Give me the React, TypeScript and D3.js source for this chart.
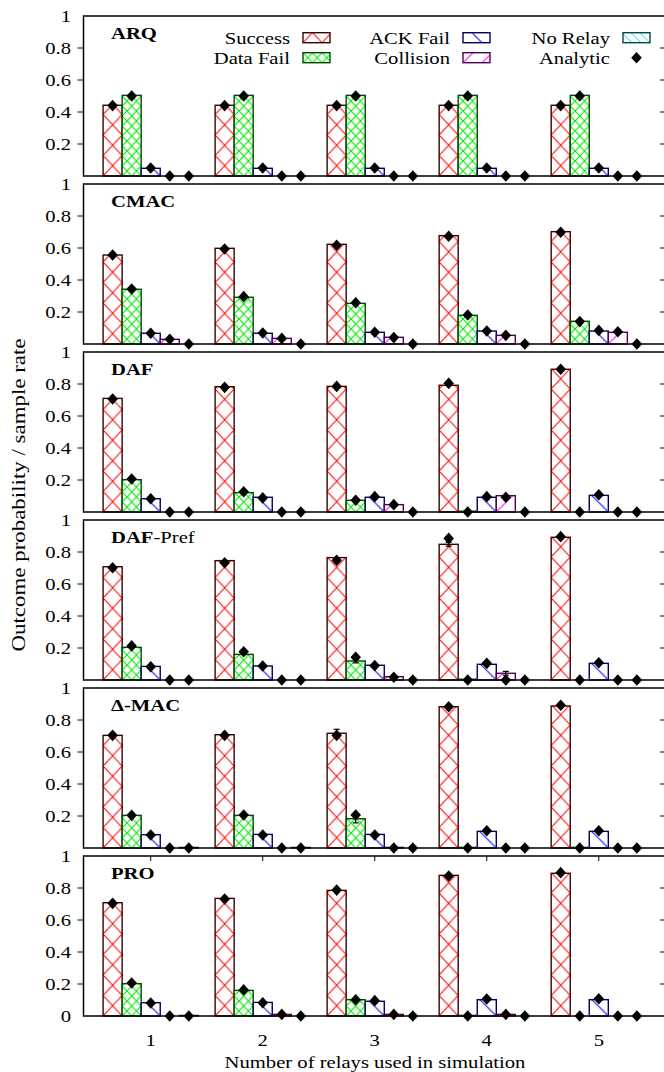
import React from "react";
import * as d3 from "d3";

const groups = [1, 2, 3, 4, 5];
const seriesNames = ["Success", "Data Fail", "ACK Fail", "Collision", "No Relay"];
const panelTitles = ["ARQ", "CMAC", "DAF", "DAF-Pref", "Δ-MAC", "PRO"];
const yTicks = [0, 0.2, 0.4, 0.6, 0.8, 1];

// simulated bars: rows = relays 1..5, cols = series
const arqSim = [
  [0.442, 0.504, 0.048, 0, 0],
  [0.442, 0.504, 0.048, 0, 0],
  [0.442, 0.504, 0.048, 0, 0],
  [0.442, 0.504, 0.048, 0, 0],
  [0.442, 0.504, 0.048, 0, 0],
];
const arqAna = [
  [0.44, 0.50, 0.05, 0, 0],
  [0.44, 0.50, 0.05, 0, 0],
  [0.44, 0.50, 0.05, 0, 0],
  [0.44, 0.50, 0.05, 0, 0],
  [0.44, 0.50, 0.05, 0, 0],
];
const cmacSim = [
  [0.556, 0.342, 0.067, 0.029, 0],
  [0.598, 0.292, 0.067, 0.035, 0],
  [0.623, 0.254, 0.073, 0.042, 0],
  [0.677, 0.179, 0.081, 0.054, 0],
  [0.702, 0.142, 0.081, 0.073, 0],
];
const cmacAna = [
  [0.556, 0.344, 0.067, 0.03, 0],
  [0.594, 0.296, 0.069, 0.035, 0],
  [0.617, 0.258, 0.073, 0.04, 0],
  [0.673, 0.181, 0.081, 0.054, 0],
  [0.698, 0.14, 0.085, 0.077, 0],
];
const dafSim = [
  [0.71, 0.202, 0.083, 0, 0],
  [0.783, 0.121, 0.092, 0, 0],
  [0.785, 0.073, 0.092, 0.046, 0],
  [0.792, 0.005, 0.092, 0.102, 0],
  [0.892, 0, 0.104, 0, 0],
];
const dafAna = [
  [0.706, 0.206, 0.083, 0, 0],
  [0.779, 0.127, 0.088, 0, 0],
  [0.785, 0.073, 0.096, 0.046, 0],
  [0.804, 0, 0.096, 0.092, 0],
  [0.892, 0, 0.108, 0, 0],
];
const dafPrefSim = [
  [0.708, 0.204, 0.085, 0, 0],
  [0.746, 0.16, 0.0875, 0, 0],
  [0.765, 0.119, 0.092, 0.021, 0],
  [0.848, 0.005, 0.098, 0.042, 0],
  [0.892, 0, 0.104, 0, 0],
];
const dafPrefAna = [
  [0.702, 0.213, 0.083, 0, 0],
  [0.733, 0.177, 0.0875, 0, 0],
  [0.748, 0.142, 0.09, 0.017, 0],
  [0.885, 0, 0.104, 0, 0],
  [0.896, 0, 0.108, 0, 0],
];
const deltaMacSim = [
  [0.704, 0.204, 0.083, 0, 0.003],
  [0.708, 0.204, 0.085, 0, 0.003],
  [0.717, 0.183, 0.085, 0.003, 0],
  [0.883, 0.003, 0.104, 0, 0],
  [0.8875, 0.003, 0.104, 0, 0],
];
const deltaMacAna = [
  [0.704, 0.204, 0.081, 0, 0],
  [0.704, 0.206, 0.081, 0, 0],
  [0.704, 0.206, 0.081, 0, 0],
  [0.883, 0, 0.108, 0, 0],
  [0.892, 0, 0.108, 0, 0],
];
const proSim = [
  [0.708, 0.202, 0.083, 0, 0.003],
  [0.735, 0.16, 0.085, 0.01, 0],
  [0.785, 0.102, 0.092, 0.01, 0],
  [0.879, 0.003, 0.102, 0.01, 0],
  [0.892, 0, 0.102, 0, 0],
];
const proAna = [
  [0.704, 0.206, 0.081, 0, 0],
  [0.731, 0.163, 0.083, 0.01, 0],
  [0.787, 0.102, 0.096, 0.01, 0],
  [0.875, 0, 0.106, 0.01, 0],
  [0.896, 0, 0.108, 0, 0],
];
// error bars: [panel, relay index, series index, half-width]
const errorBars = [
  [3, 3, 0, 0.012],
  [3, 3, 3, 0.012],
  [3, 2, 1, 0.012],
  [4, 2, 0, 0.025],
  [4, 2, 1, 0.026],
];

const panelSim = [arqSim, cmacSim, dafSim, dafPrefSim, deltaMacSim, proSim];
const panelAna = [arqAna, cmacAna, dafAna, dafPrefAna, deltaMacAna, proAna];

const W = 664;
const H = 1072;
const LEFT = 83.5;
const RIGHT = 666;
const PANEL_TOP0 = 16;
const PANEL_H = 160;
const PANEL_STEP = 168;
const BAR_W_UNITS = 0.17;
const SX = 1.18;
const FONT = "Liberation Serif, Times New Roman, serif";
const FS = 17.5;

const seriesColor = ["#ff0000", "#00f000", "#0000ff", "#ff00ff", "#00e5e5"];
const seriesBorder = ["#3c0000", "#004a00", "#00005a", "#500050", "#004848"];

function T({ x, y, anchor = "start", size = FS, weight = "normal", children }: any) {
  return (
    <g transform={`translate(${x},${y}) scale(${SX},1)`}>
      <text textAnchor={anchor} fontSize={size} fontWeight={weight} fontFamily={FONT} fill="#000">
        {children}
      </text>
    </g>
  );
}

export default function App() {
  const x = d3.scaleLinear().domain([0.4, 5.6]).range([LEFT, RIGHT]);
  const bw = x(1 + BAR_W_UNITS) - x(1);

  const patterns = (
    <defs>
      <pattern id="p0" patternUnits="userSpaceOnUse" width={bw} height={20.5}>
        <line x1={0} y1={0} x2={bw} y2={20.5} stroke={seriesColor[0]} strokeWidth={1} />
        <line x1={bw} y1={0} x2={0} y2={20.5} stroke={seriesColor[0]} strokeWidth={1} />
      </pattern>
      <pattern id="p1" patternUnits="userSpaceOnUse" width={bw / 2} height={10}>
        <line x1={0} y1={0} x2={bw / 2} y2={10} stroke={seriesColor[1]} strokeWidth={1.1} />
        <line x1={bw / 2} y1={0} x2={0} y2={10} stroke={seriesColor[1]} strokeWidth={1.1} />
      </pattern>
      <pattern id="p2" patternUnits="userSpaceOnUse" width={bw} height={bw}>
        <line x1={-1} y1={-1} x2={bw + 1} y2={bw + 1} stroke={seriesColor[2]} strokeWidth={1} />
      </pattern>
      <pattern id="p3" patternUnits="userSpaceOnUse" width={bw} height={bw}>
        <line x1={-1} y1={bw + 1} x2={bw + 1} y2={-1} stroke={seriesColor[3]} strokeWidth={1} />
      </pattern>
      <pattern id="p4" patternUnits="userSpaceOnUse" width={9} height={9}>
        <line x1={-1} y1={-1} x2={10} y2={10} stroke={seriesColor[4]} strokeWidth={1} />
      </pattern>
    </defs>
  );

  const diamond = (cx: number, cy: number, key: string) => (
    <path key={key} d={`M${cx},${cy - 5.8}L${cx + 5.3},${cy}L${cx},${cy + 5.8}L${cx - 5.3},${cy}Z`} fill="#000" />
  );

  const panels = panelSim.map((sim, p) => {
    const top = PANEL_TOP0 + p * PANEL_STEP;
    const bottom = top + PANEL_H;
    const y = d3.scaleLinear().domain([0, 1]).range([bottom, top]);
    const last = p === panelSim.length - 1;
    const ticks = last ? yTicks : yTicks.filter((t) => t > 0);
    const title = panelTitles[p];
    return (
      <g key={p}>
        {ticks.map((t) => (
          <g key={t}>
            {t > 0 && t < 1 && (
              <>
                <line x1={LEFT - 6} x2={LEFT} y1={y(t)} y2={y(t)} stroke="#000" strokeWidth={1} />
                <line x1={RIGHT - 6} x2={RIGHT} y1={y(t)} y2={y(t)} stroke="#000" strokeWidth={1} />
              </>
            )}
            <T x={71} y={y(t) + 6} anchor="end">
              {d3.format("~g")(t)}
            </T>
          </g>
        ))}
        {last &&
          groups.map((g) => (
            <g key={g}>
              <line x1={x(g)} x2={x(g)} y1={top} y2={top + 5} stroke="#000" strokeWidth={1} />
              <line x1={x(g)} x2={x(g)} y1={bottom} y2={bottom - 5} stroke="#000" strokeWidth={1} />
            </g>
          ))}
        {sim.map((row, gi) =>
          row.map((v, s) => {
            const xc = x(groups[gi] + (s - 2) * BAR_W_UNITS);
            const x0 = xc - bw / 2;
            const h = Math.max(bottom - y(v), v > 0 ? 0.6 : 0);
            if (v <= 0) return null;
            return (
              <g key={`b${gi}-${s}`} transform={`translate(${x0},${bottom})`}>
                <rect x={0} y={-h} width={bw} height={h} fill="#fff" />
                <rect x={0} y={-h} width={bw} height={h} fill={`url(#p${s})`} stroke={seriesBorder[s]} strokeWidth={1.4} />
              </g>
            );
          })
        )}
        {errorBars
          .filter((e) => e[0] === p)
          .map((e, i) => {
            const gi = e[1];
            const s = e[2];
            const v = sim[gi][s];
            const xc = x(groups[gi] + (s - 2) * BAR_W_UNITS);
            return (
              <g key={`e${i}`} stroke="#000" strokeWidth={1.2}>
                <line x1={xc} x2={xc} y1={y(v - e[3])} y2={y(v + e[3])} />
                <line x1={xc - 3} x2={xc + 3} y1={y(v - e[3])} y2={y(v - e[3])} />
                <line x1={xc - 3} x2={xc + 3} y1={y(v + e[3])} y2={y(v + e[3])} />
              </g>
            );
          })}
        <rect x={LEFT} y={top} width={RIGHT - LEFT} height={PANEL_H} fill="none" stroke="#000" strokeWidth={1.5} />
        {panelAna[p].map((row, gi) =>
          row.map((v, s) => diamond(x(groups[gi] + (s - 2) * BAR_W_UNITS), y(v), `d${gi}-${s}`))
        )}
        <g transform={`translate(111,${top + 23}) scale(${SX},1)`}>
          <text fontSize={FS} fontFamily={FONT} fill="#000">
            {title === "DAF-Pref" ? (
              <>
                <tspan fontWeight="bold">DAF</tspan>
                <tspan>-Pref</tspan>
              </>
            ) : (
              <tspan fontWeight="bold">{title}</tspan>
            )}
          </text>
        </g>
      </g>
    );
  });

  const legendItems = [
    { label: seriesNames[0], col: 0, row: 0, s: 0 },
    { label: seriesNames[1], col: 0, row: 1, s: 1 },
    { label: seriesNames[2], col: 1, row: 0, s: 2 },
    { label: seriesNames[3], col: 1, row: 1, s: 3 },
    { label: seriesNames[4], col: 2, row: 0, s: 4 },
    { label: "Analytic", col: 2, row: 1, s: -1 },
  ];
  const legend = legendItems.map((it, i) => {
    const textRight = 290 + it.col * 160;
    const boxL = 303 + it.col * 160;
    const cy = 37.7 + it.row * 20;
    return (
      <g key={i}>
        <T x={textRight} y={cy + 6} anchor="end">
          {it.label}
        </T>
        {it.s >= 0 ? (
          <g transform={`translate(${boxL},${cy + 5})`}>
            <rect x={0} y={-10} width={27} height={10} fill="#fff" />
            <rect x={0} y={-10} width={27} height={10} fill={`url(#p${it.s})`} stroke={seriesBorder[it.s]} strokeWidth={1.4} />
          </g>
        ) : (
          diamond(boxL + 13.5, cy, "ld")
        )}
      </g>
    );
  });

  const lastBottom = PANEL_TOP0 + 5 * PANEL_STEP + PANEL_H;

  return (
    <svg width={W} height={H} style={{ position: "absolute", left: 0, top: 0, background: "#fff" }}>
      {patterns}
      <rect x={0} y={0} width={W} height={H} fill="#fff" />
      {panels}
      {legend}
      {groups.map((g) => (
        <T key={g} x={x(g)} y={lastBottom + 30} anchor="middle">
          {g}
        </T>
      ))}
      <T x={375} y={1068} anchor="middle">
        Number of relays used in simulation
      </T>
      <g transform={`translate(25,495) rotate(-90)`}>
        <text textAnchor="middle" fontSize={FS} fontFamily={FONT} fill="#000" transform={`scale(1.31,1.1)`}>
          Outcome probability / sample rate
        </text>
      </g>
    </svg>
  );
}
